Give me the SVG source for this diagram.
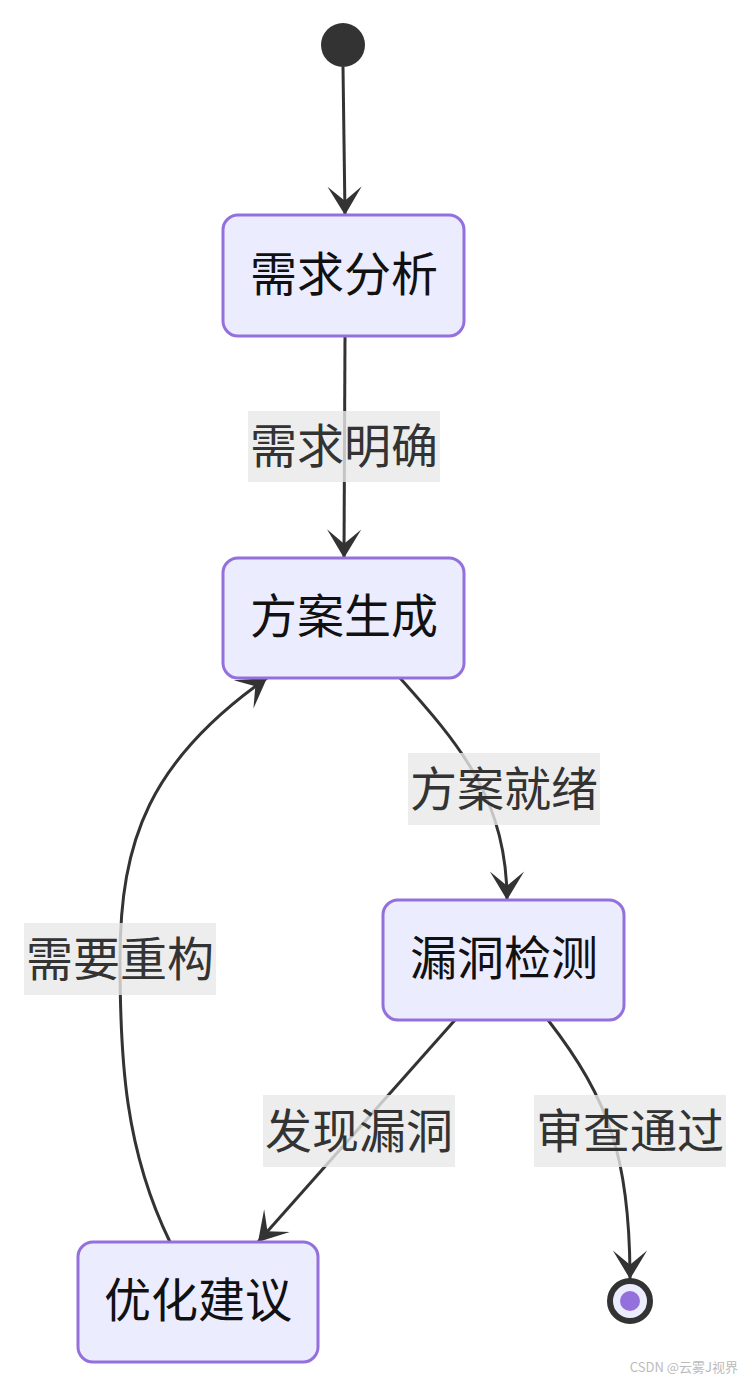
<svg xmlns="http://www.w3.org/2000/svg" width="750" height="1386" viewBox="0 0 750 1386">
<style>
.node rect{fill:#ECECFF;stroke:#9370DB;stroke-width:3}
.node text{font-family:"Noto Sans CJK SC","Liberation Sans",sans-serif;font-size:47px;fill:#111;text-anchor:middle;dominant-baseline:central}
.edge{fill:none;stroke:#333;stroke-width:3}
.lbl rect{fill:#e8e8e8;fill-opacity:0.8}
.lbl text{font-family:"Noto Sans CJK SC","Liberation Sans",sans-serif;font-size:47px;fill:#333;text-anchor:middle;dominant-baseline:central}
</style>
<defs>
<marker id="barb" viewBox="0 0 20 14" markerUnits="userSpaceOnUse" markerWidth="58" markerHeight="40" refX="19" refY="7" orient="auto">
<path d="M19,7 L9,13 L14,7 L9,1 Z" fill="#333"/>
</marker>
</defs>
<g id="start"><circle cx="343" cy="45" r="22" fill="#333"/></g>
<g id="connectors">
<path class="edge" d="M343,67 L345,215" marker-end="url(#barb)"/>
<path class="edge" d="M345,336 L344,558" marker-end="url(#barb)"/>
<path class="edge" d="M400,678 C460,745 507,800 507,900" marker-end="url(#barb)"/>
<path class="edge" d="M455,1020 L258,1242" marker-end="url(#barb)"/>
<path class="edge" d="M548,1020 C610,1100 630,1160 630,1279" marker-end="url(#barb)"/>
<path class="edge" d="M170,1242 C125,1150 120,1060 120,960 C120,840 150,760 267,678" marker-end="url(#barb)"/>
</g>
<g id="labels">
<g class="lbl"><rect x="248" y="411" width="192" height="71"/><text x="344" y="442">需求明确</text></g>
<g class="lbl"><rect x="408" y="753" width="192" height="72"/><text x="504" y="785">方案就绪</text></g>
<g class="lbl"><rect x="263" y="1095" width="192" height="72"/><text x="359" y="1127">发现漏洞</text></g>
<g class="lbl"><rect x="534" y="1095" width="192" height="72"/><text x="630" y="1127">审查通过</text></g>
<g class="lbl"><rect x="24" y="923" width="192" height="72"/><text x="120" y="955">需要重构</text></g>
</g>
<g id="n1" class="node"><rect x="223" y="215" width="241" height="121" rx="15"/><text x="344" y="270">需求分析</text></g>
<g id="n2" class="node"><rect x="223" y="558" width="241" height="120" rx="15"/><text x="344" y="612">方案生成</text></g>
<g id="n3" class="node"><rect x="383" y="900" width="241" height="120" rx="15"/><text x="504" y="954">漏洞检测</text></g>
<g id="n4" class="node"><rect x="78" y="1242" width="240" height="120" rx="15"/><text x="198" y="1296">优化建议</text></g>
<g id="end"><circle cx="630" cy="1301" r="20" fill="#ECECFF" stroke="#333" stroke-width="6"/><circle cx="630" cy="1301" r="10" fill="#9370DB"/></g>
<text x="738" y="1372" text-anchor="end" font-family="Noto Sans CJK SC,Liberation Sans,sans-serif" font-size="13" fill="#bbb">CSDN @云雾J视界</text>
</svg>
